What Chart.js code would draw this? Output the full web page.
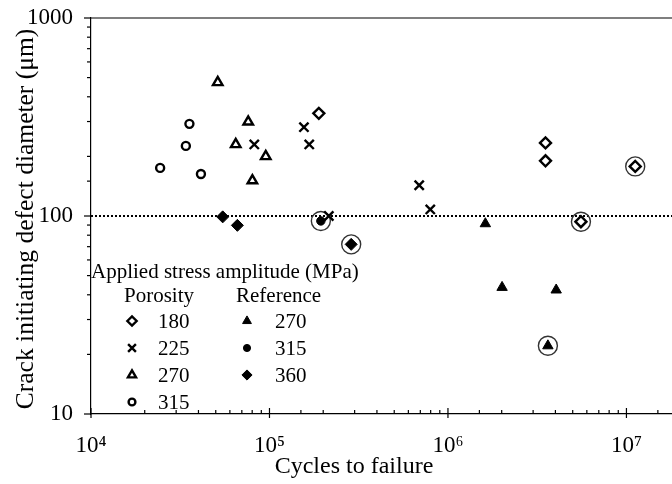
<!DOCTYPE html>
<html>
<head>
<meta charset="utf-8">
<script src="https://cdn.jsdelivr.net/npm/chart.js@4.4.1/dist/chart.umd.min.js"></script>
<style>
  html,body{margin:0;padding:0;background:#fff;}
  #c{display:block;}
</style>
</head>
<body>
<canvas id="c" width="672" height="484"></canvas>
<script>
// ---- Data (cycles to failure N, crack-initiating defect diameter D in µm) ----
const por180N = [189000, 3520000, 3520000, 5560000, 11200000];
const por180D = [330, 234, 190, 93.6, 178];
const por225N = [82200, 156000, 167000, 215000, 690000, 796000];
const por225D = [230, 281, 230, 100, 143, 108];
const por270N = [51300, 76000, 64700, 95300, 80200];
const por270D = [473, 299, 230, 200, 151];
const por315N = [35600, 34000, 24400, 41300];
const por315D = [292, 226, 175, 163];
const ref270N = [1620000, 2010000, 4040000, 3630000];
const ref270D = [91.4, 43.6, 42.3, 22.1];
const ref315N = [194000];
const ref315D = [94.4];
const ref360N = [54700, 66100, 287000];
const ref360D = [99, 89.7, 71.9];
// circled (highlighted) specimens
const ringN = [194000, 287000, 5560000, 11200000, 3630000];
const ringD = [94.4, 71.9, 93.6, 178, 22.1];
// horizontal dotted reference line at 100 µm
const lineN = [1e4, 1.8e7];
const lineD = [100, 100];

const xMin = 1e4, xMax = 1.8e7, yMin = 10, yMax = 1000;
const xTickLabels = {4:'10\u2074', 5:'10\u2075', 6:'10\u2076', 7:'10\u2077'};
const yTickLabels = {1:'10', 2:'100', 3:'1000'};

const xTitle = 'Cycles to failure';
const yTitle = 'Crack initiating defect diameter (\u03bcm)';
const legendTitle = 'Applied stress amplitude (MPa)';
const legendGroups = ['Porosity', 'Reference'];
const porLabels = ['180', '225', '270', '315'];
const refLabels = ['270', '315', '360'];

const pts = (xs, ys) => xs.map((x, i) => ({x: x, y: ys[i]}));
const FONT = "'Liberation Serif', 'Times New Roman', serif";

function isPow10(v) {
  const l = Math.log10(v);
  return Math.abs(l - Math.round(l)) < 1e-9;
}

const markerStyles = {
  p180: {pointStyle: 'rectRot', radius: 5.5, fill: '#fff', lw: 2.4},
  p225: {pointStyle: 'crossRot', radius: 6.5, fill: '#000', lw: 2.4},
  p270: {pointStyle: 'triangle', radius: 5.5, fill: '#fff', lw: 2.4},
  p315: {pointStyle: 'circle', radius: 4.0, fill: '#fff', lw: 2.4},
  r270: {pointStyle: 'triangle', radius: 6.0, fill: '#000', lw: 1},
  r315: {pointStyle: 'circle', radius: 4.2, fill: '#000', lw: 1},
  r360: {pointStyle: 'rectRot', radius: 6.0, fill: '#000', lw: 1}
};

function ds(label, data, m) {
  return {
    label: label, data: data,
    pointStyle: m.pointStyle, pointRadius: m.radius, pointHoverRadius: m.radius,
    pointBackgroundColor: m.fill, pointBorderColor: '#000', pointBorderWidth: m.lw,
    showLine: false
  };
}

const framePlugin = {
  id: 'frame',
  afterDraw(chart) {
    const ctx = chart.ctx;
    const {left, right, top, bottom} = chart.chartArea;
    const xs = chart.scales.x, ys = chart.scales.y;
    ctx.save();
    ctx.strokeStyle = '#000';
    ctx.lineWidth = 1.2;
    // top frame line
    ctx.beginPath(); ctx.moveTo(left, top); ctx.lineTo(right + 2, top); ctx.stroke();
    // x ticks (inward)
    xs.ticks.forEach(t => {
      const px = xs.getPixelForValue(t.value);
      if (px < left - 0.5 || px > right - 1) return;
      const major = isPow10(t.value);
      ctx.beginPath();
      ctx.moveTo(px, bottom + (major ? 4 : 0));
      ctx.lineTo(px, bottom - (major ? 6 : 4));
      ctx.stroke();
    });
    // y ticks (outward)
    ys.ticks.forEach(t => {
      const py = ys.getPixelForValue(t.value);
      if (py < top - 0.5 || py > bottom + 0.5) return;
      const major = isPow10(t.value);
      ctx.beginPath();
      ctx.moveTo(left, py);
      ctx.lineTo(left - (major ? 7 : 4), py);
      ctx.stroke();
    });
    ctx.restore();

    // axis titles
    ctx.save();
    ctx.fillStyle = '#000';
    ctx.textAlign = 'center';
    ctx.textBaseline = 'middle';
    ctx.font = '24px ' + FONT;
    ctx.fillText(xTitle, 354, 467);
    ctx.translate(26, 219);
    ctx.rotate(-Math.PI / 2);
    ctx.font = '25.5px ' + FONT;
    ctx.fillText(yTitle, 0, 0);
    ctx.restore();

    // legend (inside plot)
    const h = Chart.helpers;
    ctx.save();
    ctx.fillStyle = '#000';
    ctx.textBaseline = 'middle';
    ctx.textAlign = 'left';
    ctx.font = '21px ' + FONT;
    ctx.fillText(legendTitle, 91, 272);
    ctx.fillText(legendGroups[0], 124, 296);
    ctx.fillText(legendGroups[1], 236, 296);
    const rowsY = [321, 348, 375, 402];
    const porKeys = ['p180', 'p225', 'p270', 'p315'];
    const refKeys = ['r270', 'r315', 'r360'];
    porLabels.forEach((lab, i) => {
      const m = markerStyles[porKeys[i]];
      ctx.fillStyle = m.fill; ctx.strokeStyle = '#000'; ctx.lineWidth = m.lw;
      h.drawPoint(ctx, {pointStyle: m.pointStyle, radius: m.radius * 0.85, rotation: 0, borderWidth: m.lw}, 132, rowsY[i]);
      ctx.fillStyle = '#000';
      ctx.fillText(lab, 158, rowsY[i] + 1);
    });
    refLabels.forEach((lab, i) => {
      const m = markerStyles[refKeys[i]];
      ctx.fillStyle = m.fill; ctx.strokeStyle = '#000'; ctx.lineWidth = m.lw;
      h.drawPoint(ctx, {pointStyle: m.pointStyle, radius: m.radius * 0.85, rotation: 0, borderWidth: m.lw}, 247, rowsY[i]);
      ctx.fillStyle = '#000';
      ctx.fillText(lab, 275, rowsY[i] + 1);
    });
    ctx.restore();
  }
};

new Chart(document.getElementById('c'), {
  type: 'scatter',
  data: {
    datasets: [
      ds('Porosity 180', pts(por180N, por180D), markerStyles.p180),
      ds('Porosity 225', pts(por225N, por225D), markerStyles.p225),
      ds('Porosity 270', pts(por270N, por270D), markerStyles.p270),
      ds('Porosity 315', pts(por315N, por315D), markerStyles.p315),
      ds('Reference 270', pts(ref270N, ref270D), markerStyles.r270),
      ds('Reference 315', pts(ref315N, ref315D), markerStyles.r315),
      ds('Reference 360', pts(ref360N, ref360D), markerStyles.r360),
      {
        label: 'highlight', data: pts(ringN, ringD),
        pointStyle: 'circle', pointRadius: 9.5, pointHoverRadius: 9.5,
        pointBackgroundColor: 'rgba(0,0,0,0)', pointBorderColor: '#333', pointBorderWidth: 1.4,
        showLine: false
      },
      {
        label: '100 µm', data: pts(lineN, lineD), showLine: true,
        borderColor: '#000', borderWidth: 2, borderDash: [2, 2],
        pointRadius: 0, pointHoverRadius: 0, fill: false
      }
    ]
  },
  options: {
    responsive: false,
    animation: false,
    events: [],
    layout: {autoPadding: false, padding: {top: 18, right: 0, left: 0, bottom: 0}},
    plugins: {legend: {display: false}, tooltip: {enabled: false}},
    scales: {
      x: {
        type: 'logarithmic', min: xMin, max: xMax,
        afterFit: s => { s.height = 70; s.paddingLeft = 0; s.paddingRight = 0; },
        grid: {display: false},
        border: {display: true, color: '#000', width: 1.2},
        ticks: {
          autoSkip: false, maxRotation: 0, padding: 10, color: '#000',
          font: {family: FONT, size: 23},
          callback: v => isPow10(v) ? (xTickLabels[Math.round(Math.log10(v))] || '') : ''
        },
        title: {display: false}
      },
      y: {
        type: 'logarithmic', min: yMin, max: yMax,
        afterFit: s => { s.width = 91; s.paddingTop = 0; s.paddingBottom = 0; },
        grid: {display: false},
        border: {display: true, color: '#000', width: 1.2},
        ticks: {
          autoSkip: false, padding: 10, color: '#000',
          font: {family: FONT, size: 23},
          callback: v => isPow10(v) ? (yTickLabels[Math.round(Math.log10(v))] || '') : ''
        },
        title: {display: false}
      }
    }
  },
  plugins: [framePlugin]
});
</script>
</body>
</html>
